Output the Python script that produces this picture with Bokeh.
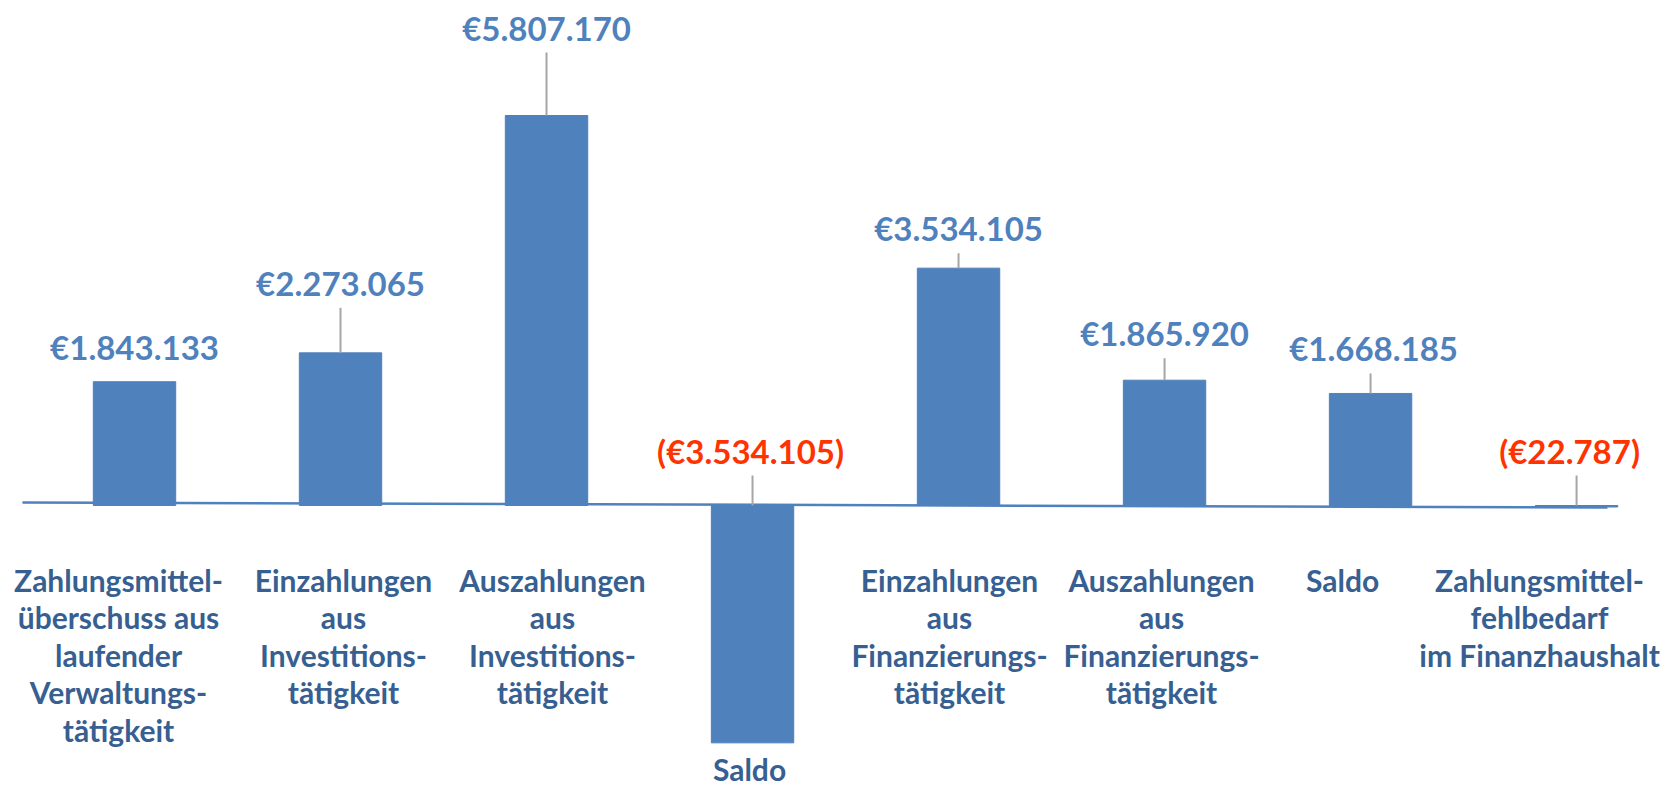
from bokeh.plotting import figure
from bokeh.models import ColumnDataSource, Range1d
from bokeh.core.properties import value
from bokeh.embed import file_html
from bokeh.resources import INLINE

# ---- data ----
categories = [
    "Zahlungsmittel-\nüberschuss aus\nlaufender\nVerwaltungs-\ntätigkeit",
    "Einzahlungen\naus\nInvestitions-\ntätigkeit",
    "Auszahlungen\naus\nInvestitions-\ntätigkeit",
    "Saldo",
    "Einzahlungen\naus\nFinanzierungs-\ntätigkeit",
    "Auszahlungen\naus\nFinanzierungs-\ntätigkeit",
    "Saldo",
    "Zahlungsmittel-\nfehlbedarf\nim Finanzhaushalt",
]
values = [1843133, 2273065, 5807170, -3534105, 3534105, 1865920, 1668185, -22787]

# ---- layout (pixels) ----
label_lift = [35, 70, 88, 55, 40, 47, 45, 55]     # value label centre above bar end
label_dx = [0, 0, 0, -2, 0, 0, 3, -7]
cat_dx = [-16, 3, 6, -3, -9, -3, -28, -37]
W, H = 1670, 790
Y0, Y1 = -4243707, 7519551
upp = (Y1 - Y0) / H

BLUE = "#4F81BD"
RED = "#FF3300"
CAT = "#375F91"
FONT = value("Lato")


def fmt(v):
    s = "€{:,}".format(abs(v)).replace(",", ".")
    return "(" + s + ")" if v < 0 else s


idx = list(range(len(values)))

p = figure(width=W, height=H, output_backend="svg", toolbar_location=None,
           x_range=Range1d(-0.6505, 7.456), y_range=Range1d(Y0, Y1),
           x_axis_location=None, y_axis_location=None, min_border=0)
p.outline_line_color = None
p.xgrid.visible = False
p.ygrid.visible = False
p.background_fill_color = "white"
p.border_fill_color = "white"

# baseline (slightly tilted as in the original)
p.segment(x0=[idx[0] - 0.544], y0=[3 * upp], x1=[idx[-1] + 0.15], y1=[-2 * upp],
          line_color=BLUE, line_width=2.5)

src = ColumnDataSource(dict(x=idx, top=values))
p.vbar(x="x", top="top", bottom=0, width=0.4, source=src,
       fill_color=BLUE, line_color=BLUE)

# leader lines
lx, ly0, ly1 = [], [], []
for i, v in enumerate(values):
    base = max(v, 0)
    gap = label_lift[i] - 25
    if gap > 12:
        lx.append(i)
        ly0.append(base)
        ly1.append(base + gap * upp)
p.segment(x0=lx, y0=ly0, x1=lx, y1=ly1, line_color="#A6A6A6", line_width=2)

# value labels
vsrc = ColumnDataSource(dict(
    x=idx, y=[max(v, 0) for v in values],
    yo=[-l for l in label_lift], xo=label_dx,
    t=[fmt(v) for v in values],
    c=[RED if v < 0 else BLUE for v in values]))
p.text(x="x", y="y", text="t", x_offset="xo", y_offset="yo", source=vsrc,
       text_color="c", text_font=FONT, text_font_style="bold",
       text_font_size="33px", text_align="center", text_baseline="middle")

# category labels, one glyph row per line
cx, cy, cxo, cyo, ct = [], [], [], [], []
for i, (cat, v) in enumerate(zip(categories, values)):
    depth_px = max(-v, 0) / upp
    first = max(74, depth_px + 26)
    for j, line in enumerate(cat.split("\n")):
        cx.append(i)
        cy.append(0)
        cxo.append(cat_dx[i])
        cyo.append(first + j * 37.5)
        ct.append(line)
csrc = ColumnDataSource(dict(x=cx, y=cy, xo=cxo, yo=cyo, t=ct))
p.text(x="x", y="y", text="t", x_offset="xo", y_offset="yo", source=csrc,
       text_color=CAT, text_font=FONT, text_font_style="bold",
       text_font_size="30px", text_align="center", text_baseline="middle")

open("out.html", "w").write(file_html(p, INLINE))
